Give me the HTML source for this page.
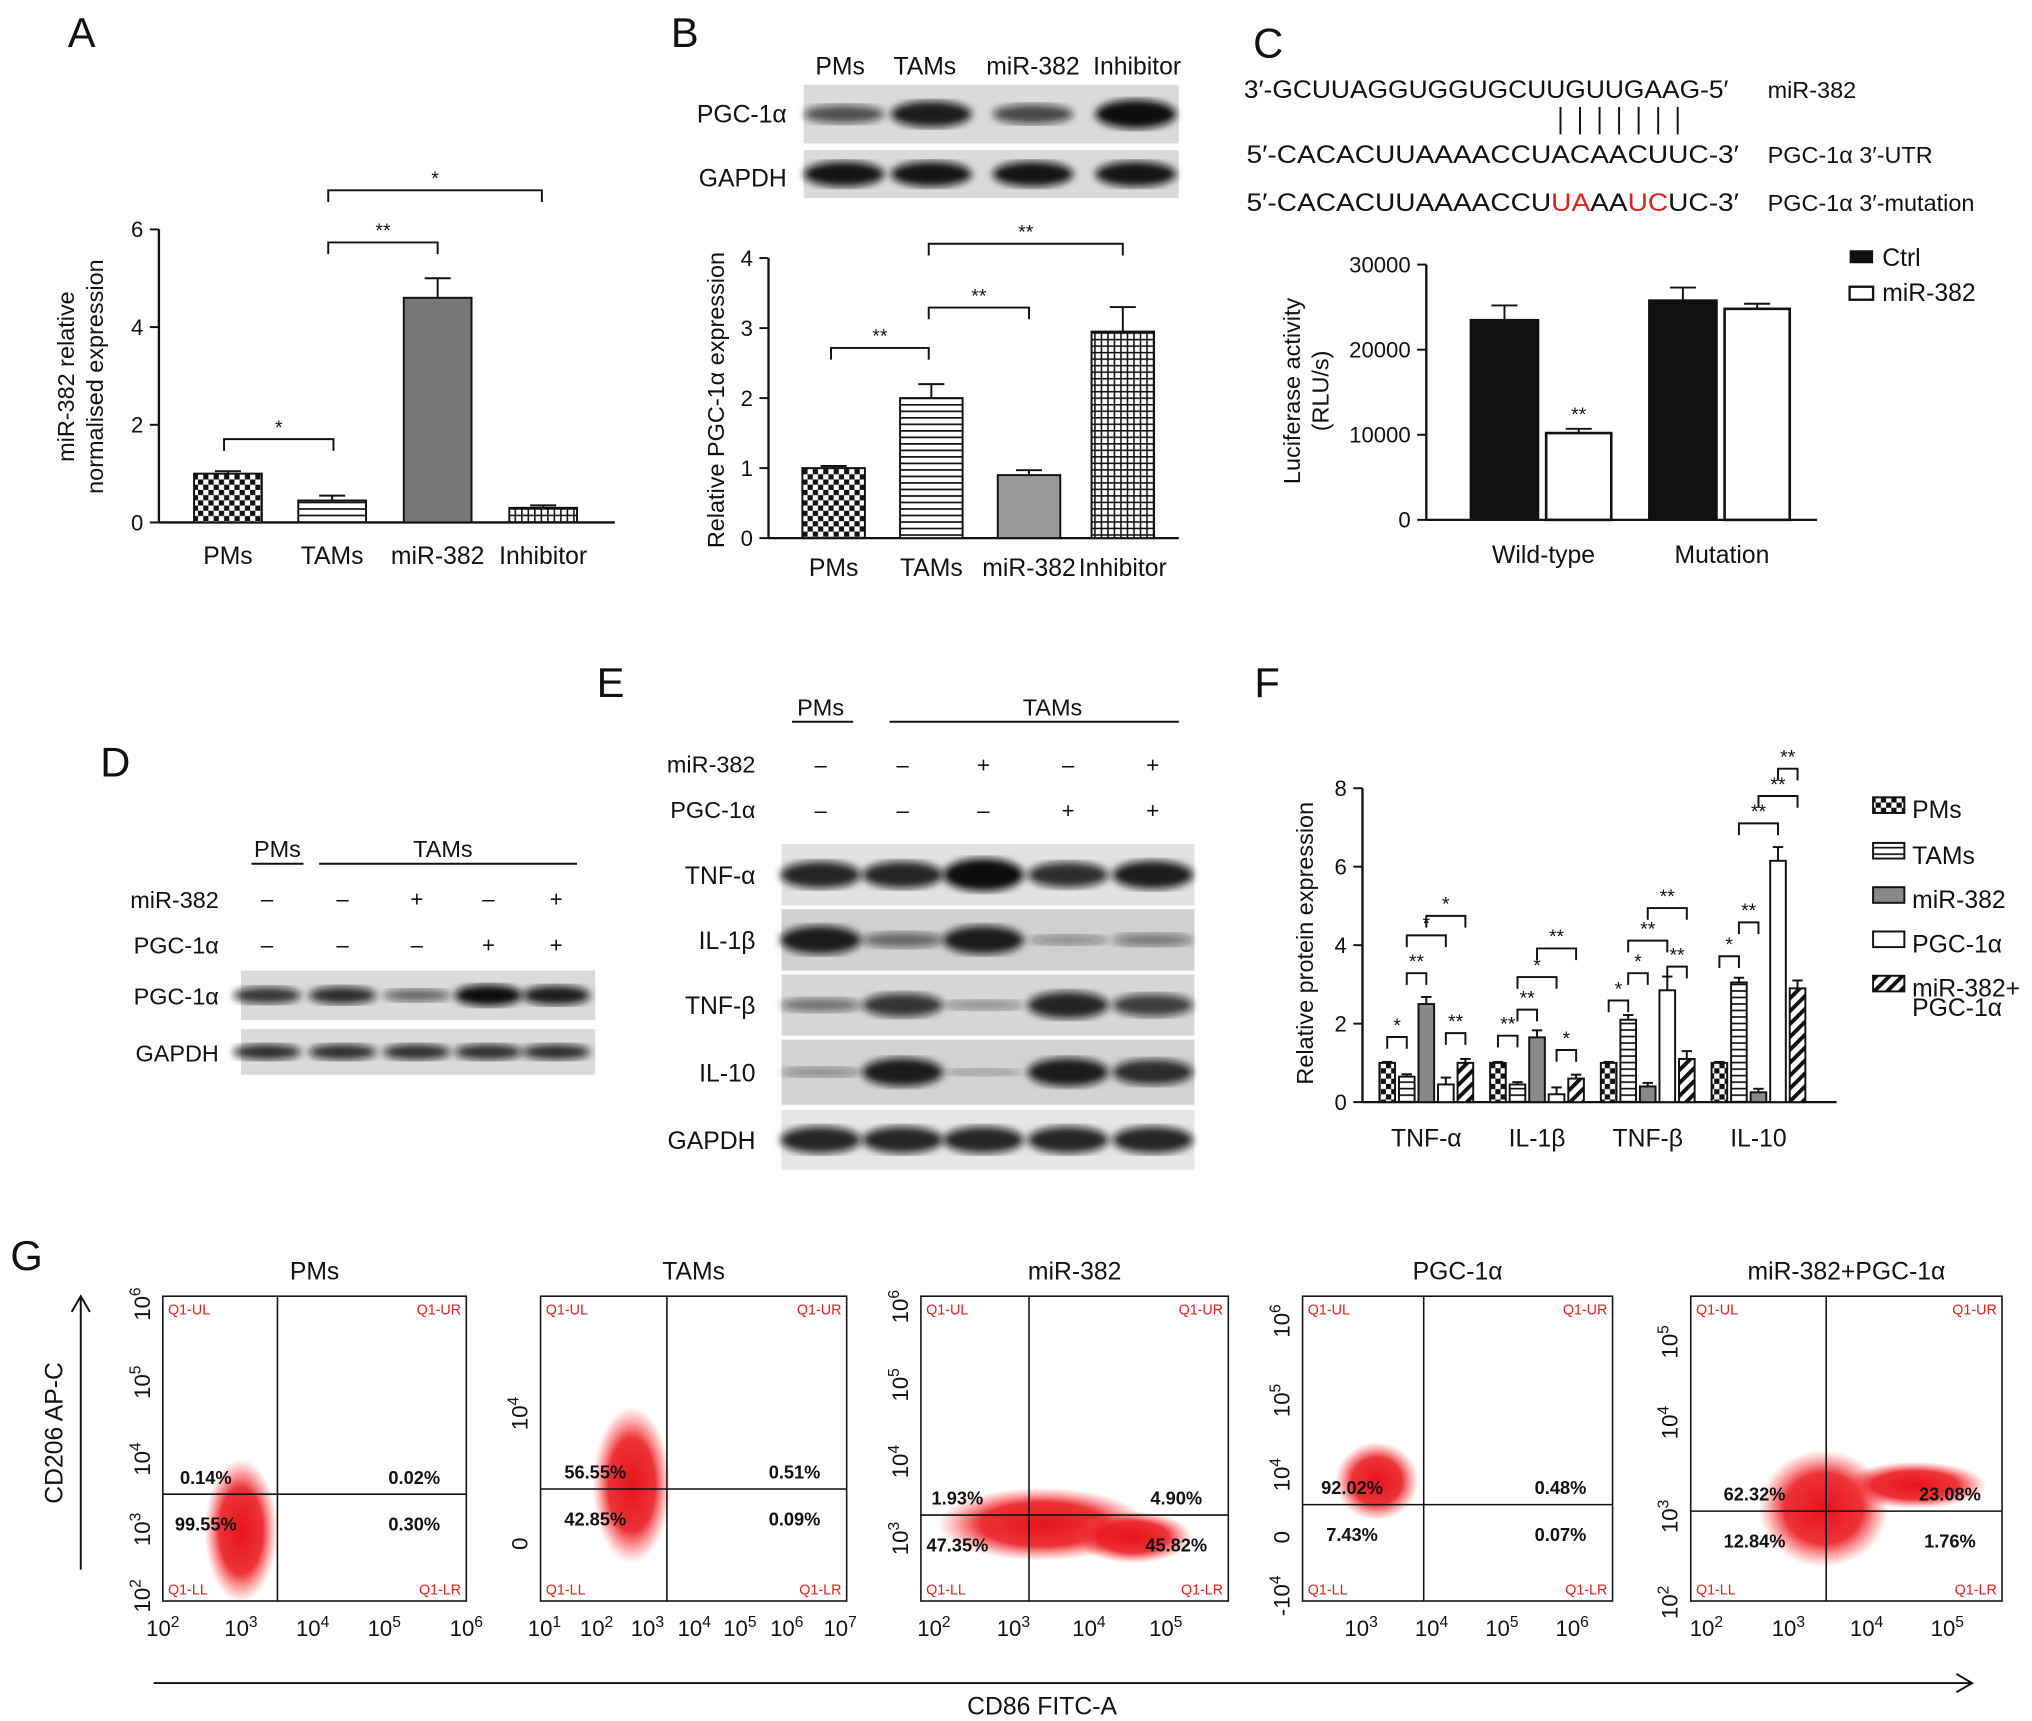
<!DOCTYPE html>
<html><head><meta charset="utf-8"><style>
html,body{margin:0;padding:0;background:#fff}
svg{display:block}
text{font-family:"Liberation Sans",sans-serif;fill:#111}
</style></head><body>
<svg id="fig" width="2032" height="1721" viewBox="0 0 1560 1321" xmlns="http://www.w3.org/2000/svg">
<defs>
<pattern id="chk" width="8" height="8" patternUnits="userSpaceOnUse"><rect width="8" height="8" fill="#fff"/><rect width="4" height="4" fill="#111"/><rect x="4" y="4" width="4" height="4" fill="#111"/></pattern>
<pattern id="hl" width="6" height="5" patternUnits="userSpaceOnUse"><rect width="6" height="5" fill="#fff"/><rect y="0" width="6" height="1.3" fill="#111"/></pattern>
<pattern id="grid" width="5" height="5" patternUnits="userSpaceOnUse"><rect width="5" height="5" fill="#fff"/><rect width="5" height="1.2" fill="#111"/><rect width="1.2" height="5" fill="#111"/></pattern>
<pattern id="dg" width="7" height="7" patternUnits="userSpaceOnUse" patternTransform="rotate(45)"><rect width="7" height="7" fill="#fff"/><rect width="3" height="7" fill="#111"/></pattern>
<radialGradient id="cloud"><stop offset="0" stop-color="#e8141c"/><stop offset="0.6" stop-color="#ea1c22" stop-opacity="0.9"/><stop offset="1" stop-color="#ff4040" stop-opacity="0"/></radialGradient>
<filter id="blur"><feGaussianBlur stdDeviation="3"/></filter>
</defs>
<g id="root"></g>
</svg>
<script>
// ---------- data ----------
const aCats=["PMs","TAMs","miR-382","Inhibitor"];
const aVals=[1.0,0.45,4.6,0.3];
const aErr=[0.05,0.1,0.4,0.05];
const aTicks=[0,2,4,6];
const bCats=["PMs","TAMs","miR-382","Inhibitor"];
const bVals=[1.0,2.0,0.9,2.95];
const bErr=[0.03,0.2,0.07,0.35];
const bTicks=[0,1,2,3,4];
const cCats=["Wild-type","Mutation"];
const cCtrl=[23500,25800];
const cCtrlErr=[1700,1500];
const cMir=[10200,24800];
const cMirErr=[500,600];
const cTicks=[0,10000,20000,30000];
const fCats=["TNF-α","IL-1β","TNF-β","IL-10"];
const fPMs=[1.0,1.0,1.0,1.0];
const fTAMs=[0.65,0.45,2.1,3.05];
const fMir=[2.5,1.65,0.4,0.25];
const fPGC=[0.45,0.2,2.85,6.15];
const fCombo=[1.0,0.6,1.1,2.9];
const fErr=[0.05,0.12,0.18,0.35,0.2];
const fTicks=[0,2,4,6,8];

const NS="http://www.w3.org/2000/svg";
const root=document.getElementById('root');
function mk(tag,at,parent){const e=document.createElementNS(NS,tag);for(const k in at)e.setAttribute(k,at[k]);(parent||root).appendChild(e);return e;}
function tx(x,y,s,size,extra,parent){const e=mk('text',Object.assign({x:x,y:y,'font-size':size||17},extra||{}),parent);e.textContent=s;return e;}
function ln(x1,y1,x2,y2,w,parent){return mk('line',{x1,y1,x2,y2,stroke:'#111','stroke-width':w||1.5},parent);}
function bracket(x1,x2,y,label,parent){mk('path',{d:`M${x1} ${y+9}V${y}H${x2}V${y+9}`,fill:'none',stroke:'#111','stroke-width':1.5},parent);tx((x1+x2)/2,y-4,label,15,{'text-anchor':'middle'},parent);}
function errBar(x,yTop,yErr,hw,parent){ln(x,yTop,x,yErr,1.5,parent);ln(x-hw,yErr,x+hw,yErr,1.5,parent);}

[["A",52,36],["B",515,36],["C",962,44],["D",77,596],["E",458,535],["F",963,535],["G",8,975]].forEach(l=>{const t=tx(l[1],l[2],l[0],32);

});

// ---------- Panel A ----------
(function(){
const g=mk('g',{});


const x0=122,y0=401,yT=176,max=6;const ys=v=>y0-(v/max)*(y0-yT);
const cx=[175,255,336,417],fills=["url(#chk)","url(#hl)","#777","url(#grid)"];
ln(x0,yT,x0,y0,1.8,g);ln(x0,y0,472,y0,1.8,g);
aTicks.forEach(t=>{ln(x0-7,ys(t),x0,ys(t),1.5,g);tx(x0-12,ys(t)+6,String(t),17,{'text-anchor':'end'},g);});
aVals.forEach((v,i)=>{errBar(cx[i],ys(v),ys(v+aErr[i]),10,g);
const r=mk('rect',{x:cx[i]-26,y:ys(v),width:52,height:y0-ys(v),fill:fills[i],stroke:'#111','stroke-width':1.5},g);


tx(cx[i],433,aCats[i],19,{'text-anchor':'middle'},g);});
const yt=tx(0,0,"miR-382 relative",18,{transform:'translate(57,289) rotate(-90)','text-anchor':'middle'},g);


tx(0,0,"normalised expression",18,{transform:'translate(79,289) rotate(-90)','text-anchor':'middle'},g);
bracket(172,256,337,"*",g);bracket(252,336,186,"**",g);bracket(252,416,146,"*",g);
})();

function blot(x,y,w,h,lanes,ints,bw,bh,bg,name){
const g=mk('g',{});


mk('rect',{x,y,width:w,height:h,fill:bg||'#d6d6d6'},g);
lanes.forEach((lx,i)=>{const it=ints[i];mk('ellipse',{cx:lx,cy:y+h/2,rx:bw/2,ry:bh*it/2+1.5,fill:'#111','fill-opacity':Math.min(1,0.25+it*0.8),filter:'url(#blur)'},g);});
return g;}

// ---------- Panel B ----------
(function(){
["PMs","TAMs","miR-382","Inhibitor"].forEach((s,i)=>tx([645,710,793,873][i],57,s,19,{'text-anchor':'middle'}));
tx(604,94,"PGC-1α",19,{'text-anchor':'end'});tx(604,143,"GAPDH",19,{'text-anchor':'end'});
blot(617,65,288,45,[648,715,793,872],[0.55,0.85,0.6,0.95],62,20,'#dadada','blot-b-pgc1a');
blot(617,115,288,37,[648,715,793,872],[0.9,0.9,0.9,0.9],62,18,'#dadada','blot-b-gapdh');
const g=mk('g',{});


const x0=590,y0=413,yT=198,max=4;const ys=v=>y0-(v/max)*(y0-yT);
const cx=[640,715,790,862],fills=["url(#chk)","url(#hl)","#9a9a9a","url(#grid)"];
ln(x0,yT,x0,y0,1.8,g);ln(x0,y0,905,y0,1.8,g);
bTicks.forEach(t=>{ln(x0-7,ys(t),x0,ys(t),1.5,g);tx(x0-12,ys(t)+6,String(t),17,{'text-anchor':'end'},g);});
bVals.forEach((v,i)=>{errBar(cx[i],ys(v),ys(v+bErr[i]),10,g);
const r=mk('rect',{x:cx[i]-24,y:ys(v),width:48,height:y0-ys(v),fill:fills[i],stroke:'#111','stroke-width':1.5},g);


tx(cx[i],442,bCats[i],19,{'text-anchor':'middle'},g);});
tx(0,0,"Relative PGC-1α expression",18,{transform:'translate(556,307) rotate(-90)','text-anchor':'middle'},g);
bracket(638,713,267,"**",g);bracket(713,790,236,"**",g);bracket(713,862,187,"**",g);
})();

// ---------- Panel C ----------
(function(){
tx(955,75,"3′-GCUUAGGUGGUGCUUGUUGAAG-5′",19,{textLength:372,lengthAdjust:'spacingAndGlyphs'});tx(1357,75,"miR-382",18);
for(let i=0;i<7;i++)ln(1198+i*15,82,1198+i*15,103,1.5);
tx(957,125,"5′-CACACUUAAAACCUACAACUUC-3′",19,{textLength:378,lengthAdjust:'spacingAndGlyphs'});tx(1357,125,"PGC-1α 3′-UTR",18);
const m=tx(957,162,"",19,{textLength:378,lengthAdjust:'spacingAndGlyphs'});m.innerHTML='5′-CACACUUAAAACCU<tspan fill="#e0201c" style="fill:#e0201c">UA</tspan>AA<tspan fill="#e0201c" style="fill:#e0201c">UC</tspan>UC-3′';
tx(1357,162,"PGC-1α 3′-mutation",18);
const g=mk('g',{});


const x0=1095,y0=399,yT=203,max=30000;const ys=v=>y0-(v/max)*(y0-yT);
ln(x0,yT,x0,y0,1.8,g);ln(x0,y0,1395,y0,1.8,g);
cTicks.forEach(t=>{ln(x0-7,ys(t),x0,ys(t),1.5,g);tx(x0-12,ys(t)+6,String(t),17,{'text-anchor':'end'},g);});
const gc=[1185,1322];
cCats.forEach((c,i)=>{
errBar(gc[i]-30,ys(cCtrl[i]),ys(cCtrl[i]+cCtrlErr[i]),10,g);
errBar(gc[i]+27,ys(cMir[i]),ys(cMir[i]+cMirErr[i]),10,g);
const a=mk('rect',{x:gc[i]-56,y:ys(cCtrl[i]),width:52,height:y0-ys(cCtrl[i]),fill:'#111',stroke:'#111','stroke-width':1.5},g);


const b=mk('rect',{x:gc[i]+2,y:ys(cMir[i]),width:50,height:y0-ys(cMir[i]),fill:'#fff',stroke:'#111','stroke-width':2},g);


tx(gc[i],432,c,19,{'text-anchor':'middle'},g);});
tx(gc[0]+27,ys(cMir[0]+cMirErr[0])-6,"**",15,{'text-anchor':'middle'},g);
tx(0,0,"Luciferase activity",18,{transform:'translate(998,300) rotate(-90)','text-anchor':'middle'},g);
tx(0,0,"(RLU/s)",18,{transform:'translate(1020,300) rotate(-90)','text-anchor':'middle'},g);
const l1=mk('rect',{x:1420,y:192,width:18,height:10,fill:'#111'},g);


tx(1445,204,"Ctrl",19,{},g);
const l2=mk('rect',{x:1420,y:220,width:18,height:10,fill:'#fff',stroke:'#111','stroke-width':1.8},g);


tx(1445,231,"miR-382",19,{},g);
})();

// ---------- Panel D ----------
(function(){
const lanes=[205,263,320,375,427];
tx(213,658,"PMs",18,{'text-anchor':'middle'});ln(193,663,233,663,1.5);
tx(340,658,"TAMs",18,{'text-anchor':'middle'});ln(245,663,443,663,1.5);
tx(168,697,"miR-382",18,{'text-anchor':'end'});tx(168,732,"PGC-1α",18,{'text-anchor':'end'});
["–","–","+","–","+"].forEach((s,i)=>tx(lanes[i],696,s,17,{'text-anchor':'middle'}));
["–","–","–","+","+"].forEach((s,i)=>tx(lanes[i],731,s,17,{'text-anchor':'middle'}));
tx(168,771,"PGC-1α",18,{'text-anchor':'end'});tx(168,815,"GAPDH",18,{'text-anchor':'end'});
blot(185,745,272,38,lanes,[0.7,0.75,0.45,0.95,0.85],52,14,'#dadada','blot-d-pgc1a');
blot(185,790,272,35,lanes,[0.75,0.75,0.75,0.75,0.75],52,12,'#dadada','blot-d-gapdh');
})();

// ---------- Panel E ----------
(function(){
const lanes=[630,693,755,820,885];
tx(630,549,"PMs",18,{'text-anchor':'middle'});ln(608,554,655,554,1.5);
tx(808,549,"TAMs",18,{'text-anchor':'middle'});ln(683,554,905,554,1.5);
tx(580,593,"miR-382",18,{'text-anchor':'end'});tx(580,628,"PGC-1α",18,{'text-anchor':'end'});
["–","–","+","–","+"].forEach((s,i)=>tx(lanes[i],593,s,17,{'text-anchor':'middle'}));
["–","–","–","+","+"].forEach((s,i)=>tx(lanes[i],628,s,17,{'text-anchor':'middle'}));
const rows=[["TNF-α",648,47,[0.8,0.8,1,0.75,0.85],'#e2e2e2'],["IL-1β",698,47,[0.85,0.4,0.85,0.2,0.3],'#d0d0d0'],["TNF-β",748,47,[0.35,0.7,0.2,0.8,0.65],'#d6d6d6'],["IL-10",798,50,[0.2,0.85,0.1,0.85,0.75],'#d2d2d2'],["GAPDH",852,46,[0.8,0.8,0.8,0.8,0.8],'#e6e6e6']];
rows.forEach(r=>{tx(580,r[1]+r[2]/2+7,r[0],19,{'text-anchor':'end'});blot(600,r[1],317,r[2],lanes,r[3],62,22,r[4],'blot-e-'+r[0].toLowerCase());});
})();

// ---------- Panel F ----------
(function(){
const g=mk('g',{});


const x0=1046,y0=846,yT=605,max=8;const ys=v=>y0-(v/max)*(y0-yT);
ln(x0,yT,x0,y0,1.8,g);ln(x0,y0,1410,y0,1.8,g);
fTicks.forEach(t=>{ln(x0-7,ys(t),x0,ys(t),1.5,g);tx(x0-12,ys(t)+6,String(t),17,{'text-anchor':'end'},g);});
const series=[fPMs,fTAMs,fMir,fPGC,fCombo],names=["pms","tams","mir382","pgc1a","combo"];
const fills=["url(#chk)","url(#hl)","#888","#fff","url(#dg)"];
const gc=[1095,1180,1265,1350];
fCats.forEach((c,i)=>{series.forEach((s,j)=>{const x=gc[i]+(j-2)*15;
const e=fErr[j]*(s[i]>1?1:0.5);
errBar(x,ys(s[i]),ys(s[i]+e),4,g);
const r=mk('rect',{x:x-6,y:ys(s[i]),width:12,height:y0-ys(s[i]),fill:fills[j],stroke:'#111','stroke-width':1.5},g);

});
tx(gc[i],880,c,19,{'text-anchor':'middle'},g);});
tx(0,0,"Relative protein expression",18,{transform:'translate(1008,724) rotate(-90)','text-anchor':'middle'},g);
const br=[[1065,1080,796,"*"],[1080,1095,747,"**"],[1080,1110,718,"*"],[1095,1125,703,"*"],[1110,1125,793,"**"],
[1150,1165,795,"**"],[1165,1180,775,"**"],[1165,1195,750,"*"],[1180,1210,728,"**"],[1195,1210,806,"*"],
[1235,1250,768,"*"],[1250,1265,747,"*"],[1250,1280,722,"**"],[1265,1295,697,"**"],[1280,1295,742,"**"],
[1320,1335,734,"*"],[1335,1350,708,"**"],[1335,1365,632,"**"],[1350,1380,611,"**"],[1365,1380,590,"**"]];
br.forEach(b=>bracket(b[0],b[1],b[2],b[3],g));
const lg=[["PMs","url(#chk)",620],["TAMs","url(#hl)",655],["miR-382","#888",689],["PGC-1α","#fff",723],["miR-382+","url(#dg)",757]];
lg.forEach((l,i)=>{const r=mk('rect',{x:1438,y:l[2]-8,width:24,height:12,fill:l[1],stroke:'#111','stroke-width':1.5},g);


tx(1468,l[2]+8,l[0],19,{},g);});
tx(1468,780,"PGC-1α",19,{},g);
})();

// ---------- Panel G ----------
(function(){
const plots=[
{t:"PMs",x:125,w:233,qx:213,qy:1147,ul:"0.14%",ur:"0.02%",ll:"99.55%",lr:"0.30%",c:[[185,1175,28,55]],yl:["10^6",1001,"10^5",1061,"10^4",1120,"10^3",1174,"10^2",1225],xl:[["10^2",125],["10^3",185],["10^4",240],["10^5",295],["10^6",358]]},
{t:"TAMs",x:415,w:235,qx:512,qy:1143,ul:"56.55%",ur:"0.51%",ll:"42.85%",lr:"0.09%",c:[[485,1140,30,60]],yl:["10^4",1085,"0",1185],xl:[["10^1",418],["10^2",458],["10^3",497],["10^4",533],["10^5",568],["10^6",604],["10^7",645]]},
{t:"miR-382",x:707,w:236,qx:790,qy:1163,ul:"1.93%",ur:"4.90%",ll:"47.35%",lr:"45.82%",c:[[800,1170,80,28],[870,1180,45,20]],yl:["10^6",1003,"10^5",1063,"10^4",1122,"10^3",1181],xl:[["10^2",717],["10^3",778],["10^4",836],["10^5",895]]},
{t:"PGC-1α",x:1000,w:238,qx:1093,qy:1155,ul:"92.02%",ur:"0.48%",ll:"7.43%",lr:"0.07%",c:[[1057,1137,32,30]],yl:["10^6",1014,"10^5",1075,"10^4",1132,"0",1180,"-10^4",1225],xl:[["10^3",1045],["10^4",1099],["10^5",1153],["10^6",1207]]},
{t:"miR-382+PGC-1α",x:1298,w:239,qx:1402,qy:1160,ul:"62.32%",ur:"23.08%",ll:"12.84%",lr:"1.76%",c:[[1400,1158,50,45],[1470,1140,55,18]],yl:["10^5",1030,"10^4",1092,"10^3",1164,"10^2",1230],xl:[["10^2",1310],["10^3",1373],["10^4",1433],["10^5",1495]]}];
const y1=995,y2=1229;
plots.forEach((p,k)=>{const g=mk('g',{});


tx(p.x+p.w/2,982,p.t,19,{'text-anchor':'middle'},g);
p.c.forEach(c=>mk('ellipse',{cx:c[0],cy:c[1],rx:c[2],ry:c[3],fill:'url(#cloud)'},g));
mk('rect',{x:p.x,y:y1,width:p.w,height:y2-y1,fill:'none',stroke:'#111','stroke-width':1.2},g);
ln(p.qx,y1,p.qx,y2,1.2,g);ln(p.x,p.qy,p.x+p.w,p.qy,1.2,g);
[["Q1-UL",p.x+4,y1+14,'start'],["Q1-UR",p.x+p.w-4,y1+14,'end'],["Q1-LL",p.x+4,y2-5,'start'],["Q1-LR",p.x+p.w-4,y2-5,'end']].forEach(q=>tx(q[1],q[2],q[0],11,{'text-anchor':q[3]},g).setAttribute('style','fill:#e0201c'));
tx(p.qx-55,p.qy-8,p.ul,14,{'font-weight':'bold','text-anchor':'middle'},g);
tx(p.qx-55,p.qy+28,p.ll,14,{'font-weight':'bold','text-anchor':'middle'},g);
tx(p.x+p.w-40,p.qy-8,p.ur,14,{'font-weight':'bold','text-anchor':'middle'},g);
tx(p.x+p.w-40,p.qy+28,p.lr,14,{'font-weight':'bold','text-anchor':'middle'},g);
for(let i=0;i<p.yl.length;i+=2){const s=p.yl[i],y=p.yl[i+1];const t=mk('text',{transform:`translate(${p.x-10},${y}) rotate(-90)`,'font-size':17,'text-anchor':'middle'},g);
if(s.indexOf('^')>0){const pr=s.split('^');t.innerHTML=pr[0]+'<tspan dy="-7" font-size="12">'+pr[1]+'</tspan>';}else t.textContent=s;}
p.xl.forEach(l=>{const pr=l[0].split('^');const t=mk('text',{x:l[1],y:1256,'font-size':17,'text-anchor':'middle'},g);t.innerHTML=pr[0]+'<tspan dy="-7" font-size="12">'+pr[1]+'</tspan>';});
});
const ax=mk('path',{d:'M118 1292H1513M1502 1285L1514 1292L1502 1299',fill:'none',stroke:'#111','stroke-width':1.5});


tx(800,1316,"CD86 FITC-A",19,{'text-anchor':'middle'});
const ay=mk('path',{d:'M62 1205V995M55 1007L62 995L69 1007',fill:'none',stroke:'#111','stroke-width':1.5});


tx(0,0,"CD206 AP-C",19,{transform:'translate(48,1100) rotate(-90)','text-anchor':'middle'});
})();
</script>
</body></html>
